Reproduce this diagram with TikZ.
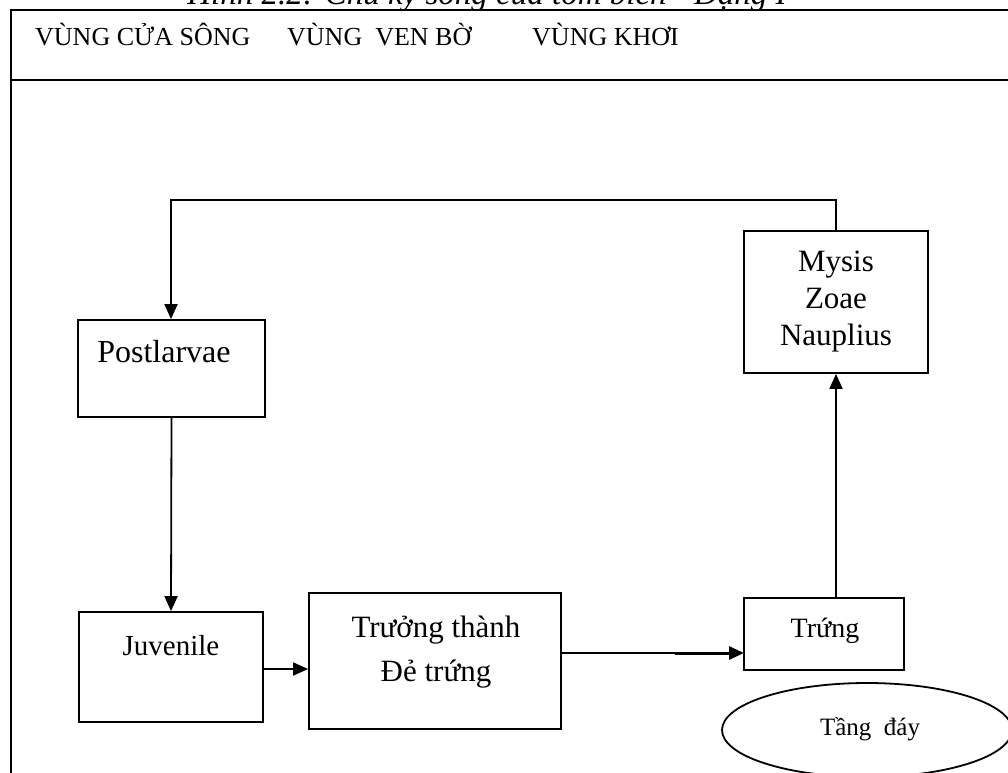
\documentclass[tikz,border=0pt]{standalone}
\usepackage{fontspec}
\setmainfont{Liberation Serif}
\usetikzlibrary{arrows.meta,shapes.geometric,calc}
\tikzset{
  stagebox/.style={draw, line width=1.8pt, inner sep=0pt},
  flow/.style={line width=1.8pt, -{Triangle[length=15pt,width=13pt]}},
  boxtext/.style={anchor=base, inner sep=0pt, align=center, font=\fontsize{31}{37}\selectfont},
  zonetext/.style={anchor=base west, inner sep=0pt, font=\fontsize{26}{30}\selectfont},
}
\begin{document}
\begin{tikzpicture}[x=1pt,y=-1pt]
\useasboundingbox (0,0) rectangle (1008,772);
\begin{scope}
\clip (0,0) rectangle (1008,772);

% caption line above the frame
\node[anchor=base, inner sep=0pt, font=\fontsize{33}{38}\selectfont\itshape] (caption) at (487,4) {Hình 2.2: Chu kỳ sống của tôm biển - Dạng I};

% frame and zone header
\draw[line width=2.4pt] (1012,10) -- (11,10) -- (11,776);
\draw[line width=2.6pt] (11,80) -- (1012,80);
\node[zonetext] (z1) at (35,45) {VÙNG CỬA SÔNG};
\node[zonetext] (z2) at (287,45) {VÙNG\ \ VEN BỜ};
\node[zonetext] (z3) at (532,45) {VÙNG KHƠI};

% stage boxes
\node[stagebox, minimum width=187pt, minimum height=97pt] (post) at (171.5,368.5) {};
\node[boxtext, font=\fontsize{32}{37}\selectfont] (posttxt) at (164,362) {Postlarvae};

\node[stagebox, minimum width=184pt, minimum height=110pt] (juv) at (171,667) {};
\node[boxtext, font=\fontsize{29}{34}\selectfont] (juvtxt) at (171,655) {Juvenile};

\node[stagebox, minimum width=252pt, minimum height=136pt] (adult) at (435,661) {};
\node[boxtext] (adulttxt1) at (436,637) {Trưởng thành};
\node[boxtext] (adulttxt2) at (436,681) {Đẻ trứng};

\node[stagebox, minimum width=160pt, minimum height=72pt] (egg) at (824,634) {};
\node[boxtext, font=\fontsize{28}{33}\selectfont] (eggtxt) at (825,637) {Trứng};

\node[stagebox, minimum width=184pt, minimum height=142pt] (larva) at (836,302) {};
\node[boxtext] (larvatxt1) at (836,271) {Mysis};
\node[boxtext] (larvatxt2) at (836,308) {Zoae};
\node[boxtext] (larvatxt3) at (836,345) {Nauplius};

% sea floor
\node[draw, ellipse, line width=1.8pt, minimum width=290pt, minimum height=94pt, inner sep=0pt] (floor) at (867,730) {};
\node[anchor=base, inner sep=0pt, font=\fontsize{25}{30}\selectfont] (floortxt) at (870,735) {Tầng\ \ đáy};

% life-cycle connectors
\coordinate (turn1) at (836,200);
\coordinate (turn2) at (171,200);
\draw[flow] (larva.north) -- (turn1) -- (turn2) -- (turn2 |- post.north);
\draw[flow] (post.south) -- (juv.north);
\coordinate (juvout) at (263,669);
\draw[flow] (juvout) -- (adult.west |- juvout);
\coordinate (eggin) at (744,653);
\coordinate (thick) at (675,653);
\draw[line width=1.4pt] (adult.east |- eggin) -- (thick);
\draw[line width=3pt, -{Triangle[length=15pt,width=13pt]}] (thick) -- (eggin);
\draw[flow] (larva.south |- egg.north) -- (larva.south);
\end{scope}
\end{tikzpicture}
\end{document}
